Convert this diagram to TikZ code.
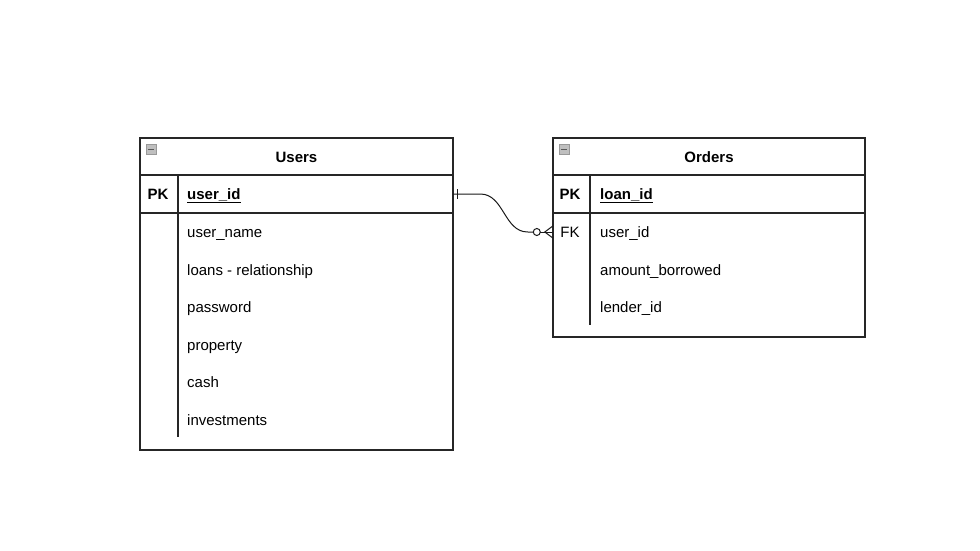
\documentclass[tikz,border=0pt]{standalone}
\usepackage{fontspec}
\setmainfont{Liberation Sans}
\begin{document}
\begin{tikzpicture}[x=1pt,y=-1pt,
  tline/.style={draw=black!85, line width=1.1pt},
  rowbox/.style={draw=none, inner sep=0pt, minimum height=37.6pt},
  keytxt/.style={inner sep=0pt, anchor=center, text height=10.6pt, text depth=0pt, font=\fontsize{15}{18}\selectfont},
  fieldtxt/.style={inner sep=0pt, anchor=west, text height=10.6pt, text depth=0pt, font=\fontsize{15}{18}\selectfont},
  headtxt/.style={inner sep=0pt, anchor=center, text height=10.6pt, text depth=0pt, font=\fontsize{15}{18}\selectfont\bfseries},
  icon/.style={draw=black!40, fill=black!25, line width=0.7pt, minimum size=10pt, inner sep=0pt},
  rel/.style={draw=black!90, line width=1pt}
]
\useasboundingbox[fill=white] (0,0) rectangle (980,551);

% ---------- Users table ----------
\node[tline, rectangle, minimum width=313pt, minimum height=312pt, inner sep=0pt] (users) at (296.5,294) {};
\draw[tline] (140,175) -- (453,175);
\draw[tline] (140,213) -- (453,213);
\draw[tline] (178,175) -- (178,437);
\node[icon] (uicon) at (151,149.5) {};
\draw[black!65, line width=1.8pt] ([xshift=-3.2]uicon.center) -- ([xshift=3.2]uicon.center);
\node[headtxt] (uhead) at (296.5,157) {Users};

\node[rowbox, minimum width=313pt] (u-r0) at (296.5,194) {};
\node[keytxt, font=\fontsize{15}{18}\selectfont\bfseries] (u-k0) at (158,194) {PK};
\node[fieldtxt, font=\fontsize{15}{18}\selectfont\bfseries] (u-f0) at (187,194) {\underline{user\_id}};
\node[fieldtxt] (u-f1) at (187,232) {user\_name};
\node[fieldtxt] (u-f2) at (187,270) {loans - relationship};
\node[fieldtxt] (u-f3) at (187,307) {password};
\node[fieldtxt] (u-f4) at (187,345) {property};
\node[fieldtxt] (u-f5) at (187,382) {cash};
\node[fieldtxt] (u-f6) at (187,420) {investments};

% ---------- Orders table ----------
\node[tline, rectangle, minimum width=312pt, minimum height=199pt, inner sep=0pt] (orders) at (709,237.5) {};
\draw[tline] (553,175) -- (865,175);
\draw[tline] (553,213) -- (865,213);
\draw[tline] (590,175) -- (590,325);
\node[icon] (oicon) at (564,149.5) {};
\draw[black!65, line width=1.8pt] ([xshift=-3.2]oicon.center) -- ([xshift=3.2]oicon.center);
\node[headtxt] (ohead) at (709,157) {Orders};

\node[rowbox, minimum width=312pt] (o-r0) at (709,194) {};
\node[keytxt, font=\fontsize{15}{18}\selectfont\bfseries] (o-k0) at (570,194) {PK};
\node[fieldtxt, font=\fontsize{15}{18}\selectfont\bfseries] (o-f0) at (600,194) {\underline{loan\_id}};
\node[rowbox, minimum width=312pt] (o-r1) at (709,232) {};
\node[keytxt] (o-k1) at (570,232) {FK};
\node[fieldtxt] (o-f1) at (600,232) {user\_id};
\node[fieldtxt] (o-f2) at (600,270) {amount\_borrowed};
\node[fieldtxt] (o-f3) at (600,307) {lender\_id};

% ---------- Relationship ----------
\coordinate (p1) at ([xshift=27]u-r0.east);
\coordinate (p2) at ([xshift=-25]o-r1.west);
\coordinate (circ) at ([xshift=-16]o-r1.west);
\coordinate (crow) at ([xshift=-8]o-r1.west);
\draw[rel] (u-r0.east) -- (p1) .. controls +(24,0) and +(-24,0) .. (p2) -- ([xshift=-3.5]circ);
\draw[rel] ([xshift=4]u-r0.east) ++(0,-5) -- ++(0,10);
\draw[rel] (circ) circle (3.5);
\draw[rel] ([xshift=3.5]circ) -- (o-r1.west);
\draw[rel] ([yshift=-6]o-r1.west) -- (crow) -- ([yshift=6]o-r1.west);
\end{tikzpicture}
\end{document}
